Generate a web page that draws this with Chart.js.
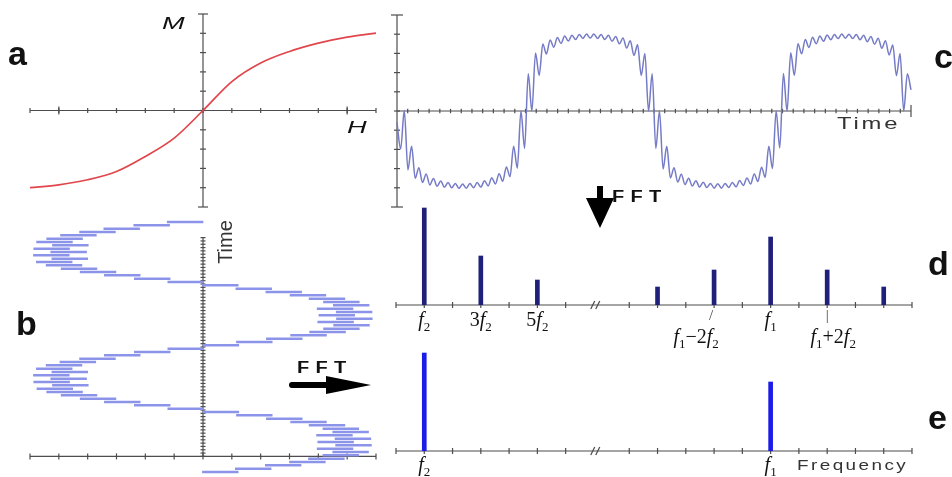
<!DOCTYPE html>
<html>
<head>
<meta charset="utf-8">
<title>Magnetisation response and FFT</title>
<script src="https://cdn.jsdelivr.net/npm/chart.js@4.4.1/dist/chart.umd.min.js"></script>
<style>
  html, body { margin: 0; padding: 0; background: #fff; }
  #stage { position: relative; width: 952px; height: 477px; overflow: hidden; background: #fff; }
  #stage canvas { position: absolute; }
  .lbl { position: absolute; white-space: nowrap; line-height: 1; color: #111; z-index: 5; }
  .letter { font: bold 34px "Liberation Sans", Arial, sans-serif; }
  .math { font: 20px "Liberation Serif", "Times New Roman", serif; transform: translate(-50%, -50%); }
  .math i { font-style: italic; }
  .math sub { font-size: 13px; position: relative; top: 5px; vertical-align: baseline; line-height: 0; }
  .conn { font: 15px "Liberation Serif", serif; color: #444; transform: translate(-50%, -50%); }
  .axisname { font: italic 16px "Liberation Sans", Arial, sans-serif; transform-origin: 0 0; transform: scaleX(1.7); }
  .word { font: 17px "Liberation Sans", Arial, sans-serif; color: #333; transform-origin: 0 0; }
  .fft { font: bold 16px "Liberation Sans", Arial, sans-serif; letter-spacing: 5px; transform-origin: 0 0; transform: scaleX(1.25); }
  svg { position: absolute; left: 0; top: 0; z-index: 4; }
</style>
</head>
<body>
<div id="stage">
  <svg width="952" height="477">
    <path d="M292 385 L334 385" stroke="#000" stroke-width="6" stroke-linecap="round"/>
    <polygon points="326,376 371,385 326,394" fill="#000"/>
    <path d="M600 186 L600 202" stroke="#000" stroke-width="6"/>
    <polygon points="586,198 614,198 600,228" fill="#000"/>
  </svg>
  <div class="lbl letter" style="left:8px;top:34px">a</div>
  <div class="lbl letter" style="left:16px;top:304px">b</div>
  <div class="lbl letter" style="left:934px;top:37px">c</div>
  <div class="lbl letter" style="left:928px;top:244px">d</div>
  <div class="lbl letter" style="left:928px;top:398px">e</div>
  <div class="lbl axisname" style="left:162px;top:15px">M</div>
  <div class="lbl axisname" style="left:347px;top:119px">H</div>
  <div class="lbl word" style="left:837px;top:114px;transform:scaleX(1.4);letter-spacing:2px">Time</div>
  <div class="lbl word" style="left:225px;top:242px;font-family:'Liberation Sans Narrow','Liberation Sans',sans-serif;font-size:20px;transform-origin:50% 50%;transform:translate(-50%,-50%) rotate(-90deg)">Time</div>
  <div class="lbl word" style="left:797px;top:457px;font-size:14px;transform:scaleX(1.35);letter-spacing:1.8px">Frequency</div>
  <div class="lbl fft" style="left:297px;top:359px">FFT</div>
  <div class="lbl fft" style="left:612px;top:188px">FFT</div>
</div>
<script>
// panel a: magnetisation curve M(H)
const aH = [-6, -5, -4, -3, -2, -1, 0, 1, 2, 3, 4, 5, 6];
const aM = [-4.0, -3.85, -3.59, -3.16, -2.38, -1.43, 0, 1.5, 2.46, 3.06, 3.49, 3.8, 4.01];

// panel b: driving field, centre of each fast swing (top to bottom in time)
const bCenter = [
  -0.62, -1.78, -2.82, -3.66, -4.32, -4.8, -5.15, -4.6, -5.25, -4.66, -5.26, -4.62, -5.16, -4.82, -4.3, -3.64, -2.8, -1.76, -0.6,
  0.6, 1.76, 2.8, 3.64, 4.3, 4.8, 5.14, 4.58, 5.24, 4.64, 5.25, 4.6, 5.15, 4.8, 4.32, 3.66, 2.82, 1.78, 0.62,
  -0.6, -1.76, -2.8, -3.66, -4.34, -4.82, -5.16, -4.62, -5.26, -4.66, -5.25, -4.6, -5.14, -4.8, -4.3, -3.64, -2.8, -1.76, -0.6,
  0.62, 1.78, 2.82, 3.66, 4.3, 4.78, 5.12, 4.56, 5.2, 4.6, 5.22, 4.58, 5.12, 4.78, 4.28, 3.62, 2.78, 1.74, 0.6
];
const bSwing = 0.62;

// panel c: magnetisation vs time, ripple extremes left to right
const cSignal = [
  -0.6,
  -1.98, 0.02, -3.07, -1.83, -3.5, -2.95, -3.72, -3.28, -3.85, -3.52, -3.92, -3.64, -3.97, -3.72, -4.0, -3.77, -4.03, -3.8,
  -4.02, -3.78, -4.0, -3.73, -3.96, -3.63, -3.9, -3.48, -3.8, -3.27, -3.66, -2.92, -3.42, -1.83, -2.98, 0.0, -1.95,
  1.94, 0.0, 3.02, 1.85, 3.49, 2.97, 3.7, 3.32, 3.83, 3.52, 3.9, 3.64, 3.95, 3.72, 3.99, 3.78, 4.01, 3.8,
  4.01, 3.78, 3.98, 3.72, 3.94, 3.63, 3.88, 3.5, 3.8, 3.28, 3.66, 2.9, 3.45, 1.85, 3.0, 0.0, 1.94,
  -1.95, 0.0, -3.02, -1.84, -3.48, -2.96, -3.7, -3.3, -3.83, -3.5, -3.91, -3.63, -3.96, -3.71, -3.99, -3.77, -4.02, -3.79,
  -4.02, -3.77, -3.99, -3.72, -3.95, -3.62, -3.88, -3.49, -3.8, -3.28, -3.67, -2.93, -3.45, -1.84, -3.0, 0.0, -1.93,
  1.95, 0.0, 3.03, 1.86, 3.5, 2.98, 3.72, 3.31, 3.84, 3.5, 3.91, 3.63, 3.96, 3.71, 3.99, 3.77, 4.01, 3.79,
  4.0, 3.77, 3.98, 3.71, 3.94, 3.61, 3.88, 3.48, 3.79, 3.27, 3.66, 2.92, 3.44, 1.84, 3.0, 0.0, 1.94,
  1.1
];

// panels d and e: spectra on a broken frequency axis
const freqTicks = [0, 1, 2, 3, 4, 5, 6, 8.25, 9.25, 10.25, 11.25, 12.25, 13.25, 14.25, 15.25, 16.25, 17.25, 18.25];
const freqBreak = 7.1;
const dFreq = [1, 3, 5, 9.25, 11.25, 13.25, 15.25, 17.25];
const dAmp = [97, 49, 25, 18, 35, 68, 35, 18];
const eFreq = [1, 13.25];
const eAmp = [98, 69];

const stage = document.getElementById("stage");

function range(from, to, step) {
  const out = [];
  for (let v = from; v <= to + 1e-9; v += step) out.push(+v.toFixed(4));
  return out;
}

//draws hand-style axes (line through a value of the other scale, crossing ticks)
function axesPlugin(specs) {
  return {
    id: "sketchAxes",
    beforeDatasetsDraw(chart) {
      const ctx = chart.ctx;
      const seg = (x0, y0, x1, y1) => {
        ctx.beginPath();
        ctx.moveTo(x0, y0);
        ctx.lineTo(x1, y1);
        ctx.stroke();
      };
      ctx.save();
      ctx.strokeStyle = "#4d4d4d";
      ctx.lineWidth = 1.2;
      specs.forEach((ax) => {
        const along = chart.scales[ax.along];
        const pos = chart.scales[ax.cross].getPixelForValue(ax.at);
        const flat = along.isHorizontal();
        const mark = (v, half) => {
          const p = along.getPixelForValue(v);
          if (flat) seg(p, pos - half, p, pos + half);
          else seg(pos - half, p, pos + half, p);
        };
        const p0 = along.getPixelForValue(ax.from);
        const p1 = along.getPixelForValue(ax.to);
        if (flat) seg(p0, pos, p1, pos);
        else seg(pos, p0, pos, p1);
        (ax.ticks || []).forEach((v) => mark(v, ax.half));
        (ax.caps || []).forEach((v) => mark(v, ax.capHalf));
        if (ax.breakAt !== undefined) {
          const p = along.getPixelForValue(ax.breakAt);
          seg(p - 6, pos + 4, p - 2, pos - 4);
          seg(p - 1, pos + 4, p + 3, pos - 4);
        }
      });
      ctx.restore();
    },
  };
}

function panel(box, pad, config, specs) {
  const cv = document.createElement("canvas");
  cv.width = box.w + 2 * pad;
  cv.height = box.h + 2 * pad;
  cv.style.left = box.x - pad + "px";
  cv.style.top = box.y - pad + "px";
  stage.appendChild(cv);
  config.options.responsive = false;
  config.options.animation = false;
  config.options.devicePixelRatio = 1;
  config.options.events = [];
  config.options.layout = { padding: pad };
  config.options.plugins = { legend: { display: false }, tooltip: { enabled: false } };
  config.plugins = [axesPlugin(specs)];
  const chart = new Chart(cv, config);
  chart.$origin = { x: box.x - pad, y: box.y - pad };
  return chart;
}

//label under a frequency axis, placed through the chart's x scale
function tag(chart, v, y, html, cls, dx) {
  const el = document.createElement("div");
  el.className = "lbl " + cls;
  el.innerHTML = html;
  el.style.left = chart.$origin.x + chart.scales.x.getPixelForValue(v) + (dx || 0) + "px";
  el.style.top = y + "px";
  stage.appendChild(el);
}

// a
panel(
  { x: 30, y: 14, w: 346, h: 193 },
  12,
  {
    type: "line",
    data: {
      datasets: [
        {
          data: aH.map((h, i) => ({ x: h, y: aM[i] })),
          borderColor: "#e0464c",
          borderWidth: 1.7,
          pointRadius: 0,
          cubicInterpolationMode: "monotone",
          clip: false,
        },
      ],
    },
    options: {
      scales: {
        x: { type: "linear", display: false, min: -6, max: 6 },
        y: { type: "linear", display: false, min: -5, max: 5 },
      },
    },
  },
  [
    { along: "x", cross: "y", at: 0, from: -6, to: 6, ticks: range(-6, 6, 1), half: 2.5, caps: [-5, 5], capHalf: 4 },
    { along: "y", cross: "x", at: 0, from: -5, to: 5, ticks: range(-4, 4, 1), half: 3, caps: [-5, 5], capHalf: 5 },
  ]
);

// b
panel(
  { x: 30, y: 222, w: 346, h: 250 },
  12,
  {
    type: "bar",
    data: {
      labels: bCenter.map((_, i) => i),
      datasets: [
        {
          data: bCenter.map((c) => [c - bSwing, c + bSwing]),
          backgroundColor: "#8b94e8",
          barThickness: 1.8,
          borderWidth: 0,
          clip: false,
        },
      ],
    },
    options: {
      indexAxis: "y",
      scales: {
        x: { type: "linear", display: false, min: -6, max: 6, offset: false },
        y: { type: "category", display: false, offset: false },
        ty: { type: "linear", axis: "y", position: "left", display: false, min: 0, max: 66, reverse: true },
      },
    },
  },
  [
    { along: "ty", cross: "x", at: 0, from: 0, to: 66, ticks: range(0, 66, 1), half: 2.5 },
    { along: "x", cross: "ty", at: 66, from: -6, to: 6, ticks: range(-6, 6, 1), half: 3 },
  ]
);

// c
panel(
  { x: 397, y: 15, w: 514, h: 192 },
  12,
  {
    type: "line",
    data: {
      labels: cSignal.map((_, i) => i),
      datasets: [
        {
          data: cSignal,
          borderColor: "#757bc6",
          borderWidth: 1.5,
          pointRadius: 0,
          cubicInterpolationMode: "monotone",
          clip: false,
        },
      ],
    },
    options: {
      scales: {
        x: { type: "category", display: false, offset: false },
        tx: { type: "linear", axis: "x", position: "bottom", display: false, min: 0, max: 48 },
        y: { type: "linear", display: false, min: -5, max: 5 },
      },
    },
  },
  [
    { along: "tx", cross: "y", at: 0, from: 0, to: 48, ticks: range(1, 47, 1), half: 2.2, caps: [48], capHalf: 6 },
    { along: "y", cross: "tx", at: 0, from: -5, to: 5, ticks: range(-4, 4, 1), half: 3, caps: [-5, 5], capHalf: 6 },
  ]
);

function spectrum(box, freqs, amps, color) {
  return panel(
    box,
    12,
    {
      type: "bar",
      data: {
        datasets: [
          {
            data: freqs.map((f, i) => ({ x: f, y: amps[i] })),
            backgroundColor: color,
            barThickness: 4,
            borderWidth: 0,
          },
        ],
      },
      options: {
        scales: {
          x: { type: "linear", display: false, min: 0, max: 18.25, offset: false },
          y: { type: "linear", display: false, min: 0, max: 100 },
        },
      },
    },
    [{ along: "x", cross: "y", at: 0, from: 0, to: 18.25, ticks: freqTicks, half: 3, breakAt: freqBreak }]
  );
}

// d
const dChart = spectrum({ x: 396, y: 205, w: 516, h: 100 }, dFreq, dAmp, "#1f1f7c");
tag(dChart, 1, 319, "<i>f</i><sub>2</sub>", "math");
tag(dChart, 3, 319, "3<i>f</i><sub>2</sub>", "math");
tag(dChart, 5, 319, "5<i>f</i><sub>2</sub>", "math");
tag(dChart, 13.25, 319, "<i>f</i><sub>1</sub>", "math");
tag(dChart, 11.25, 315, "/", "conn", -3);
tag(dChart, 15.25, 315, "|", "conn");
tag(dChart, 11.25, 336, "<i>f</i><sub>1</sub>\u22122<i>f</i><sub>2</sub>", "math", -18);
tag(dChart, 15.25, 336, "<i>f</i><sub>1</sub>+2<i>f</i><sub>2</sub>", "math", 6);

// e
const eChart = spectrum({ x: 396, y: 351, w: 516, h: 100 }, eFreq, eAmp, "#1c1ce8");
tag(eChart, 1, 464, "<i>f</i><sub>2</sub>", "math");
tag(eChart, 13.25, 464, "<i>f</i><sub>1</sub>", "math");
</script>
</body>
</html>
